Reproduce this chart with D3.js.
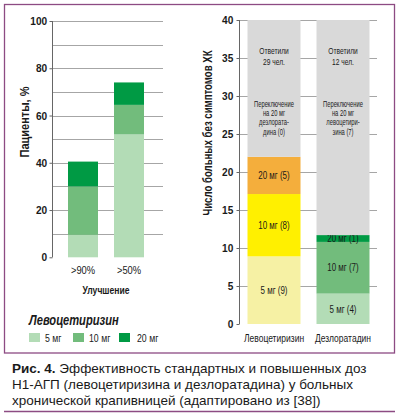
<!DOCTYPE html>
<html>
<head>
<meta charset="utf-8">
<script src="https://cdn.jsdelivr.net/npm/d3@7"></script>
<style>
  body { margin: 0; background: #fff; }
  svg { display: block; }
  text { font-family: "Liberation Sans", Arial, sans-serif; fill: #1a1a1a; }
</style>
</head>
<body>
<div id="chart"></div>
<script>
// left chart: patients, %
const leftCats = ['>90%', '>50%'];
const leftDoses = ['5 мг', '10 мг', '20 мг'];
const leftValues = [
    [9.5, 20.5, 10.5],
    [52, 12.5, 9.5]
];
const leftTicks = [0, 20, 40, 60, 80, 100];
const leftGrid = [10, 20, 30, 40, 50, 60, 70, 80, 90, 100];
const leftColors = ['#b3dcb6', '#72bc7c', '#009a44'];

// right chart: number of patients without symptoms
const rightCats = ['Левоцетиризин', 'Дезлоратадин'];
const rightValues = [
    [8.9, 8.2, 4.9],
    [4, 6.8, 0.9]
];
const rightLabels = [
    ['5 мг (9)', '10 мг (8)', '20 мг (5)'],
    ['5 мг (4)', '10 мг (7)', '20 мг (1)']
];
const rightColors = [
    ['#f6f1a4', '#fff000', '#f4ae3c'],
    ['#b3dcb6', '#72bc7c', '#009a44']
];
const rightMax = 40;
const rightTicks = [0, 5, 10, 15, 20, 25, 30, 35, 40];
const greyTop = [
    ['Ответили', '29 чел.'],
    ['Ответили', '12 чел.']
];
const greyBottom = [
    ['Переключение', 'на 20 мг', 'дезлората-', 'дина (0)'],
    ['Переключение', 'на 20 мг', 'левоцетири-', 'зина (7)']
];

const captionLines = [
    ['Рис. 4.', ' Эффективность стандартных и повышенных доз'],
    ['', 'Н1-АГП (левоцетиризина и дезлоратадина) у больных'],
    ['', 'хронической крапивницей (адаптировано из [38])']
];

const svg = d3.select('#chart').append('svg')
    .attr('width', 399)
    .attr('height', 415);

// condensed-looking text: horizontal squeeze of Liberation Sans
function label(g, x, y, str, size, sx, opts = {}) {
    const rot = opts.rotate ? ` rotate(${opts.rotate})` : '';
    return g.append('text')
        .attr('transform', `translate(${x},${y})${rot} scale(${sx},1)`)
        .attr('text-anchor', opts.anchor || 'middle')
        .style('font-size', size + 'px')
        .style('font-weight', opts.bold ? 'bold' : 'normal')
        .style('font-style', opts.italic ? 'italic' : 'normal')
        .text(str);
}

// frame
svg.append('rect')
    .attr('x', 4.5).attr('y', 4.5)
    .attr('width', 390).attr('height', 348.5)
    .attr('fill', 'none')
    .attr('stroke', '#8d4b83')
    .attr('stroke-width', 1.3);

svg.append('line')
    .attr('x1', 4).attr('x2', 395)
    .attr('y1', 411.5).attr('y2', 411.5)
    .attr('stroke', '#8d4b83')
    .attr('stroke-width', 1.3);

// ---------- left chart ----------
const yL = d3.scaleLinear().domain([0, 100]).range([257.3, 21]);
const xL = d3.scalePoint().domain(leftCats).range([83, 129]);
const barWL = 30;

const gl = svg.append('g');

gl.selectAll('.gridL')
    .data(leftGrid)
    .enter()
    .append('line')
    .attr('x1', 52).attr('x2', 163)
    .attr('y1', d => Math.round(yL(d)) + 0.5)
    .attr('y2', d => Math.round(yL(d)) + 0.5)
    .attr('stroke', '#a6a6a6')
    .attr('stroke-width', 1);

leftValues.forEach((vals, i) => {
    let acc = 0;
    vals.forEach((v, j) => {
        gl.append('rect')
            .attr('x', xL(leftCats[i]) - barWL / 2)
            .attr('width', barWL)
            .attr('y', yL(acc + v))
            .attr('height', yL(acc) - yL(acc + v))
            .attr('fill', leftColors[j]);
        acc += v;
    });
});

const axL = gl.append('g')
    .attr('transform', 'translate(52.5,0)')
    .call(d3.axisLeft(yL).tickValues(leftTicks).tickSize(3).tickPadding(3));
axL.select('.domain').attr('stroke', '#666').attr('d', `M0,${yL(0)}V${yL(100)}`);
axL.selectAll('.tick line').attr('stroke', '#666');
axL.selectAll('text')
    .attr('transform', 'scale(0.88,1)')
    .style('font-family', '"Liberation Sans", Arial, sans-serif')
    .style('font-size', '11.5px')
    .style('font-weight', 'bold')
    .attr('fill', '#1a1a1a');

leftCats.forEach(c => label(gl, xL(c), 274, c, 11, 0.85));
label(gl, 106, 294, 'Улучшение', 11, 0.78, { bold: true });
label(gl, 29, 122, 'Пациенты, %', 12.5, 0.88, { bold: true, rotate: -90 });

// legend
label(gl, 29, 325, 'Левоцетиризин', 14.5, 0.77, { bold: true, italic: true, anchor: 'start' });

const legX = [29, 73, 119];
const legTX = [45, 89, 137];
leftDoses.forEach((d, j) => {
    gl.append('rect')
        .attr('x', legX[j]).attr('y', 333)
        .attr('width', 11).attr('height', 9)
        .attr('fill', leftColors[j]);
    label(gl, legTX[j], 342, d, 11.5, 0.76, { anchor: 'start' });
});

// ---------- right chart ----------
const yR = d3.scaleLinear().domain([0, rightMax]).range([324, 20]);
const xR = d3.scalePoint().domain(rightCats).range([274, 343]);
const barWR = 53;

const gr = svg.append('g');

gr.selectAll('.gridR')
    .data(rightTicks.filter(d => d > 0))
    .enter()
    .append('line')
    .attr('x1', 239).attr('x2', 377)
    .attr('y1', d => Math.round(yR(d)) + 0.5)
    .attr('y2', d => Math.round(yR(d)) + 0.5)
    .attr('stroke', '#a6a6a6')
    .attr('stroke-width', 1);

rightValues.forEach((vals, i) => {
    const cx = xR(rightCats[i]);
    let acc = 0;
    vals.forEach((v, j) => {
        gr.append('rect')
            .attr('x', cx - barWR / 2)
            .attr('width', barWR)
            .attr('y', yR(acc + v))
            .attr('height', yR(acc) - yR(acc + v))
            .attr('fill', rightColors[i][j]);
        label(gr, cx, (yR(acc) + yR(acc + v)) / 2 + 3.7, rightLabels[i][j], 10.5, 0.76);
        acc += v;
    });
    // grey remainder
    gr.append('rect')
        .attr('x', cx - barWR / 2)
        .attr('width', barWR)
        .attr('y', yR(rightMax))
        .attr('height', yR(acc) - yR(rightMax))
        .attr('fill', '#d9d9d9');

    greyTop[i].forEach((t, k) => label(gr, cx, 53.5 + k * 11.7, t, 9, 0.74));
    greyBottom[i].forEach((t, k) => label(gr, cx, 106.5 + k * 9.4, t, 8.3, 0.7));
});

const axR = gr.append('g')
    .attr('transform', 'translate(239.5,0)')
    .call(d3.axisLeft(yR).tickValues(rightTicks).tickSize(3).tickPadding(4));
axR.select('.domain').attr('stroke', '#666').attr('d', `M0,${yR(0)}V${yR(rightMax)}`);
axR.selectAll('.tick line').attr('stroke', '#666');
axR.selectAll('text')
    .attr('transform', 'scale(0.88,1)')
    .style('font-family', '"Liberation Sans", Arial, sans-serif')
    .style('font-size', '11.5px')
    .style('font-weight', 'bold')
    .attr('fill', '#1a1a1a');

rightCats.forEach(c => label(gr, xR(c), 341.5, c, 11.5, 0.74));
label(gr, 212, 133, 'Число больных без симптомов ХК', 12.5, 0.77, { bold: true, rotate: -90 });

// ---------- caption ----------
captionLines.forEach((ln, k) => {
    const t = svg.append('text')
        .attr('x', 12)
        .attr('y', 373 + k * 16)
        .style('font-size', '13.5px');
    if (ln[0]) t.append('tspan').style('font-weight', 'bold').text(ln[0]);
    t.append('tspan').text(ln[1]);
});
</script>
</body>
</html>
